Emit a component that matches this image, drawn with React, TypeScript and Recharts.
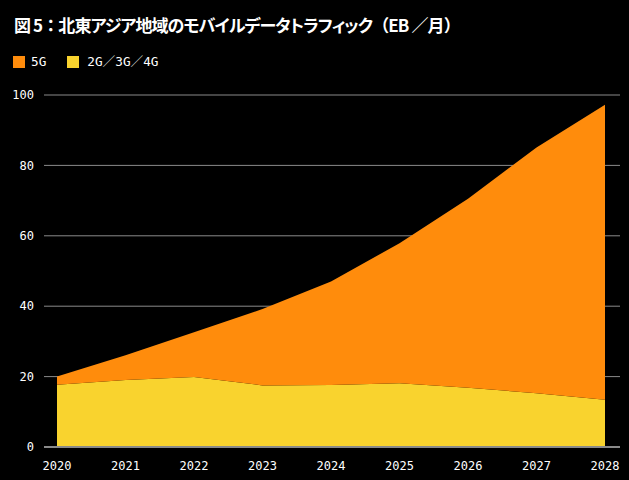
import React from "react";
import { AreaChart, Area, XAxis, YAxis, CartesianGrid } from "recharts";

const years = ["2020", "2021", "2022", "2023", "2024", "2025", "2026", "2027", "2028"];
const legacy = [17.7, 19.0, 19.9, 17.5, 17.6, 18.1, 16.8, 15.3, 13.4];
const fiveG = [2.3, 7.1, 12.7, 21.7, 29.4, 39.8, 53.7, 69.8, 83.8];
const yTicks = [0, 20, 40, 60, 80, 100];

const data = years.map((y, i) => ({ year: y, legacy: legacy[i], fiveG: fiveG[i] }));

const ORANGE = "#FF8C0C";
const YELLOW = "#F9D32E";
const MONO = "'DejaVu Sans Mono', 'Noto Sans CJK JP', monospace";
const full = { fontFeatureSettings: "normal" } as const;

export default function App() {
  return (
    <div style={{ position: "absolute", left: 0, top: 0, width: 629, height: 480, background: "#000", overflow: "hidden" }}>
      <div
        style={{
          position: "absolute",
          left: 14,
          top: 12,
          color: "#fff",
          fontFamily: "'Noto Sans CJK JP', sans-serif",
          fontWeight: 700,
          fontSize: 17,
          lineHeight: "26px",
          fontFeatureSettings: '"palt"',
          letterSpacing: -0.9,
          whiteSpace: "nowrap",
        }}
      >
        図 5<span style={full}>：</span>北東アジア地域のモバイルデータトラフィック<span style={full}>（</span>EB ／月<span style={full}>）</span>
      </div>
      <div style={{ position: "absolute", left: 13, top: 54, display: "flex", alignItems: "center", color: "#fff", fontFamily: MONO, fontSize: 12.7, lineHeight: "16px" }}>
        <span style={{ width: 12, height: 12, background: ORANGE, display: "inline-block" }} />
        <span style={{ marginLeft: 6 }}>5G</span>
        <span style={{ width: 12, height: 12, background: YELLOW, display: "inline-block", marginLeft: 21 }} />
        <span style={{ marginLeft: 8 }}>2G／3G／4G</span>
      </div>
      <AreaChart width={629} height={480} data={data} margin={{ top: 95, right: 9, bottom: 0, left: 0 }}>
        <CartesianGrid horizontal vertical={false} stroke="#8a8a8a" strokeWidth={1} />
        <XAxis
          dataKey="year"
          padding={{ left: 13, right: 15 }}
          height={33}
          tickLine={false}
          tickSize={0}
          tickMargin={14}
          axisLine={{ stroke: "#8a8a8a", strokeWidth: 2 }}
          tick={{ fill: "#fff", fontSize: 12, fontFamily: MONO }}
          interval={0}
        />
        <YAxis
          width={44}
          domain={[0, 100]}
          ticks={yTicks}
          tickLine={false}
          tickSize={0}
          tickMargin={10}
          axisLine={false}
          tick={{ fill: "#fff", fontSize: 12, fontFamily: MONO }}
        />
        <Area type="linear" dataKey="legacy" stackId="a" stroke="none" fill={YELLOW} fillOpacity={1} isAnimationActive={false} />
        <Area type="linear" dataKey="fiveG" stackId="a" stroke="none" fill={ORANGE} fillOpacity={1} isAnimationActive={false} />
      </AreaChart>
    </div>
  );
}
